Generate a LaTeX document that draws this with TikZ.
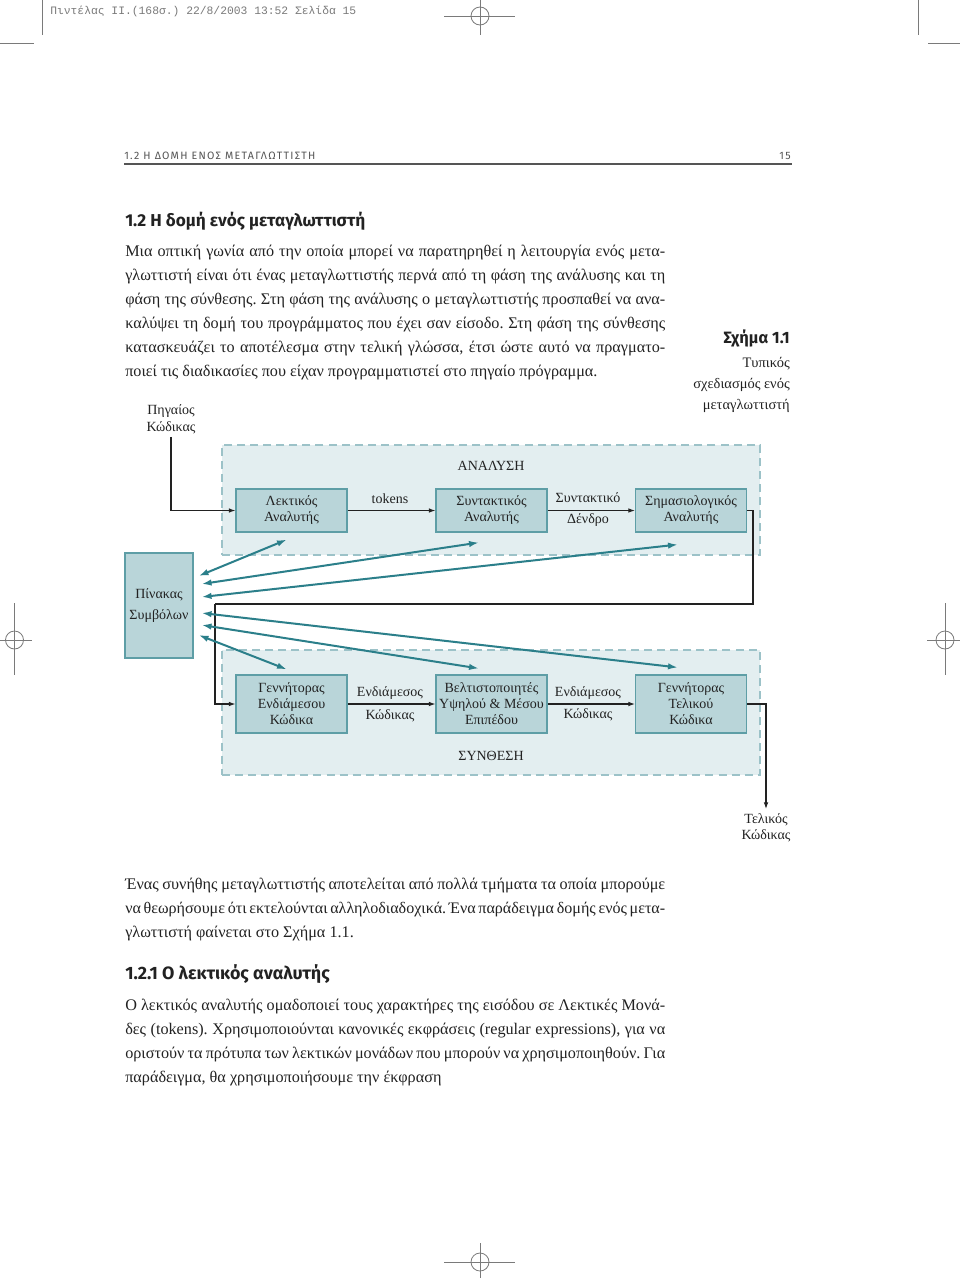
\documentclass[tikz,border=0pt]{standalone}
\usepackage{fontspec}
\setmainfont{Liberation Serif}
\newfontfamily\headfont{Fira Sans}
\newfontfamily\rhfont[LetterSpace=12]{Fira Sans}
\newfontfamily\hdrmono{Liberation Mono}
\usetikzlibrary{arrows.meta,calc}
\definecolor{boxfill}{HTML}{B9D5D9}
\definecolor{boxline}{HTML}{5E9EA6}
\definecolor{grpfill}{HTML}{E3EEF0}
\definecolor{grpline}{HTML}{9CC2C8}
\definecolor{tealarrow}{HTML}{2B7F8A}
\definecolor{ink}{HTML}{222222}
\definecolor{markgray}{HTML}{7A7A7A}
\definecolor{rhgray}{HTML}{555555}
\frenchspacing
\begin{document}
\begin{tikzpicture}[x=0.75pt,y=-0.75pt,
  every node/.style={inner sep=0pt, text=ink},
  bodyline/.style={anchor=base west, font=\fontsize{12.15pt}{18pt}\selectfont},
  marginline/.style={anchor=base east, font=\fontsize{10.85pt}{14pt}\selectfont},
  headline/.style={anchor=base west, font=\headfont\bfseries\fontsize{13.2pt}{15pt}\selectfont},
  proc/.style={draw=boxline, fill=boxfill, line width=0.8pt, minimum width=83.25pt, align=center, font=\fontsize{10.5pt}{12pt}\selectfont},
  group/.style={draw=grpline, fill=grpfill, line width=1.1pt, dash pattern=on 6pt off 3.8pt, minimum width=403.5pt},
  dlabel/.style={font=\fontsize{10.5pt}{12.5pt}\selectfont, align=center},
  regmark/.style={draw=markgray, line width=0.6pt},
  tarrow/.style={draw=tealarrow, line width=1.5pt, {Latex[length=7.5pt,width=4.8pt]}-{Latex[length=7.5pt,width=4.8pt]}},
  barrow/.style={draw=ink, line width=0.8pt, -{Latex[length=5pt,width=3.5pt]}},
  bline/.style={draw=ink, line width=0.8pt}
]
\useasboundingbox[fill=white] (0,0) rectangle (960,1278);

% ---------- crop / registration marks ----------
\draw[regmark] (42,0) -- (42,35);
\draw[regmark] (0,43) -- (34,43);
\draw[regmark] (918,0) -- (918,35);
\draw[regmark] (928,43) -- (960,43);
\draw[regmark] (444,16) -- (515,16) (480,0) -- (480,35);
\draw[regmark] (480,16) circle[radius=6.75pt];
\draw[regmark] (0,640) -- (32,640) (14.5,603) -- (14.5,675);
\draw[regmark] (14.5,640) circle[radius=6.75pt];
\draw[regmark] (927,640) -- (960,640) (945,603) -- (945,675);
\draw[regmark] (945,640) circle[radius=6.75pt];
\draw[regmark] (444,1262) -- (515,1262) (480,1243) -- (480,1278);
\draw[regmark] (480,1262) circle[radius=6.75pt];

% ---------- slug line ----------
\node[anchor=base west, font=\hdrmono\fontsize{8.5pt}{10pt}\selectfont, text=markgray] (slug) at (50,14) {Πιντέλας ΙΙ.(168σ.) 22/8/2003 13:52 Σελίδα 15};

% ---------- running head ----------
\node[anchor=base west, font=\rhfont\fontsize{8pt}{9pt}\selectfont, text=rhgray] (rh) at (124,159) {1.2 Η ΔΟΜΗ ΕΝΟΣ ΜΕΤΑΓΛΩΤΤΙΣΤΗ};
\node[anchor=base east, font=\rhfont\fontsize{8pt}{9pt}\selectfont, text=rhgray] (pg) at (791,159) {15};
\draw[draw=rhgray, line width=1.2pt] (124,164) -- (792,164);

% ---------- section title and paragraph 1 ----------
\node[headline, font=\headfont\bfseries\fontsize{12.9pt}{15pt}\selectfont] (title) at (125,226) {1.2 Η δομή ενός μεταγλωττιστή};
\node[bodyline] (a1) at (125,256) {\makebox[405pt][s]{Μια οπτική γωνία από την οποία μπορεί να παρατηρηθεί η λειτουργία ενός μετα-}};
\node[bodyline] (a2) at (125,280) {\makebox[405pt][s]{γλωττιστή είναι ότι ένας μεταγλωττιστής περνά από τη φάση της ανάλυσης και τη}};
\node[bodyline] (a3) at (125,304) {\makebox[405pt][s]{φάση της σύνθεσης. Στη φάση της ανάλυσης ο μεταγλωττιστής προσπαθεί να ανα-}};
\node[bodyline] (a4) at (125,328) {\makebox[405pt][s]{καλύψει τη δομή του προγράμματος που έχει σαν είσοδο. Στη φάση της σύνθεσης}};
\node[bodyline] (a5) at (125,352) {\makebox[405pt][s]{κατασκευάζει το αποτέλεσμα στην τελική γλώσσα, έτσι ώστε αυτό να πραγματο-}};
\node[bodyline] (a6) at (125,376) {ποιεί τις διαδικασίες που είχαν προγραμματιστεί στο πηγαίο πρόγραμμα.};

% ---------- margin caption ----------
\node[anchor=base east, font=\headfont\bfseries\fontsize{12.3pt}{14pt}\selectfont] (cap) at (790,343) {Σχήμα 1.1};
\node[marginline] (cap1) at (790,367) {Τυπικός};
\node[marginline] (cap2) at (790,388) {σχεδιασμός ενός};
\node[marginline] (cap3) at (790,409) {μεταγλωττιστή};

% ---------- diagram ----------
\node[group, minimum height=82.5pt] (ana) at (491,500) {};
\node[group, minimum height=93.75pt] (syn) at (491,712.5) {};
\node[dlabel] (analbl) at (491,466) {ΑΝΑΛΥΣΗ};
\node[dlabel] (synlbl) at (491,756) {ΣΥΝΘΕΣΗ};

\node[proc, minimum height=32.25pt] (lex) at (291.5,510.5) {Λεκτικός\\Αναλυτής};
\node[proc, minimum height=32.25pt] (par) at (491.5,510.5) {Συντακτικός\\Αναλυτής};
\node[proc, minimum height=32.25pt] (sem) at (691,510.5) {Σημασιολογικός\\Αναλυτής};
\node[proc, minimum height=43.5pt] (gen) at (291.5,704) {Γεννήτορας\\Ενδιάμεσου\\Κώδικα};
\node[proc, minimum height=43.5pt] (opt) at (491.5,704) {Βελτιστοποιητές\\Υψηλού \& Μέσου\\Επιπέδου};
\node[proc, minimum height=43.5pt] (fin) at (691,704) {Γεννήτορας\\Τελικού\\Κώδικα};
\node[proc, minimum width=51pt, minimum height=78.75pt, font=\fontsize{10.5pt}{15.75pt}\selectfont] (sym) at (159,605.5) {Πίνακας\\Συμβόλων};

\node[dlabel] (src) at (171,419.5) {Πηγαίος\\Κώδικας};
\node[dlabel, anchor=north] (out) at (766,813) {Τελικός\\Κώδικας};

\node[dlabel] (ltok) at (390,499) {tokens};
\node[dlabel] (ltree1) at (588,498) {Συντακτικό};
\node[dlabel] (ltree2) at (588,520) {Δένδρο};
\node[dlabel] (lmid1) at (390,693) {Ενδιάμεσος};
\node[dlabel] (lmid2) at (390,716) {Κώδικας};
\node[dlabel] (lmid3) at (588,693) {Ενδιάμεσος};
\node[dlabel] (lmid4) at (588,715) {Κώδικας};

\coordinate (loopR) at (753,604);
\coordinate (loopL) at (215,604);

\draw[barrow] ([yshift=-2pt]src.south) |- (lex.west);
\draw[barrow] (lex.east) -- (par.west);
\draw[barrow] (par.east) -- (sem.west);
\draw[bline] (sem.east) -| (loopR) -- (loopL);
\draw[barrow] (loopL) |- (gen.west);
\draw[barrow] (gen.east) -- (opt.west);
\draw[barrow] (opt.east) -- (fin.west);
\draw[barrow] (fin.east) -| ([yshift=3pt]out.north);

\draw[tarrow] ([shift={(5,-29.5)}]sym.east) -- ([shift={(-4.5,7)}]lex.south);
\draw[tarrow] ([shift={(8,-21.5)}]sym.east) -- ([shift={(-12.5,10)}]par.south);
\draw[tarrow] ([shift={(8,-8.5)}]sym.east) -- ([shift={(-13,12)}]sem.south);
\draw[tarrow] ([shift={(8,7.5)}]sym.east) -- ([shift={(-13,-7)}]fin.north);
\draw[tarrow] ([shift={(8,19.5)}]sym.east) -- ([shift={(-12.5,-6)}]opt.north);
\draw[tarrow] ([shift={(5,29.5)}]sym.east) -- ([shift={(-4.5,-5)}]gen.north);

% ---------- paragraph 2 ----------
\node[bodyline] (b1) at (125,889) {\makebox[405pt][s]{Ένας συνήθης μεταγλωττιστής αποτελείται από πολλά τμήματα τα οποία μπορούμε}};
\node[bodyline, font=\fontsize{12.05pt}{18pt}\selectfont] (b2) at (125,913) {\makebox[405pt][s]{να θεωρήσουμε ότι εκτελούνται αλληλοδιαδοχικά. Ένα παράδειγμα δομής ενός μετα-}};
\node[bodyline] (b3) at (125,937) {γλωττιστή φαίνεται στο Σχήμα 1.1.};

% ---------- subsection ----------
\node[headline, font=\headfont\bfseries\fontsize{13.4pt}{15pt}\selectfont] (sub) at (125,979) {1.2.1 Ο λεκτικός αναλυτής};
\node[bodyline] (c1) at (125,1010) {\makebox[405pt][s]{Ο λεκτικός αναλυτής ομαδοποιεί τους χαρακτήρες της εισόδου σε Λεκτικές Μονά-}};
\node[bodyline] (c2) at (125,1034) {\makebox[405pt][s]{δες (tokens). Χρησιμοποιούνται κανονικές εκφράσεις (regular expressions), για να}};
\node[bodyline] (c3) at (125,1058) {\makebox[405pt][s]{οριστούν τα πρότυπα των λεκτικών μονάδων που μπορούν να χρησιμοποιηθούν. Για}};
\node[bodyline] (c4) at (125,1082) {παράδειγμα, θα χρησιμοποιήσουμε την έκφραση};
\end{tikzpicture}
\end{document}
